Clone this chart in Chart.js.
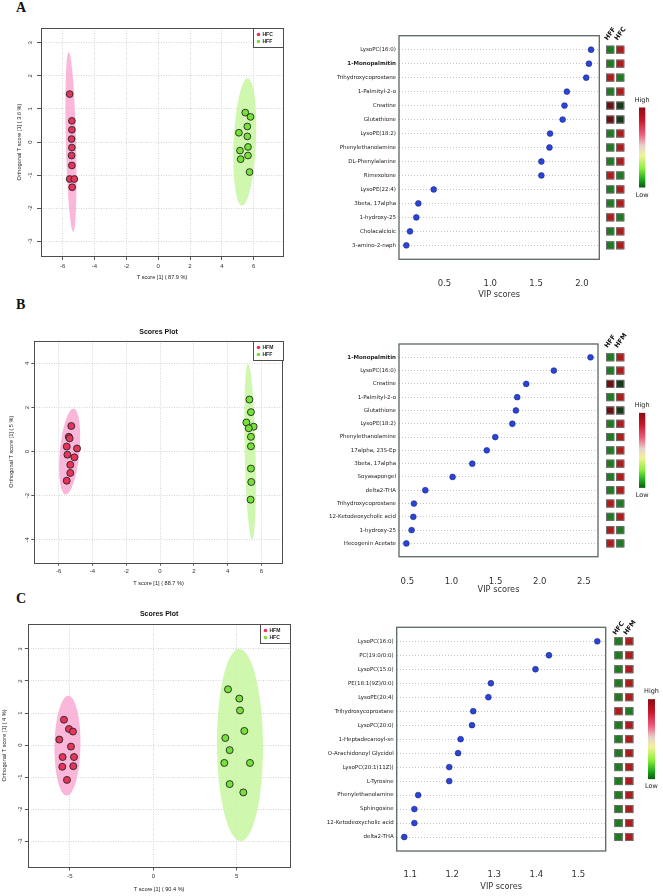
<!DOCTYPE html>
<html>
<head>
<meta charset="utf-8">
<script src="https://cdn.jsdelivr.net/npm/chart.js@4.4.1/dist/chart.umd.min.js"></script>
<style>
body { margin: 0; background: #fff; width: 663px; height: 896px; position: relative; overflow: hidden; }
canvas { position: absolute; }
.letter { position: absolute; font-family: "Liberation Serif", serif; font-weight: bold; font-size: 14px; line-height: 14px; color: #111; }
</style>
</head>
<body>
<div class="letter" style="left:16px;top:1px">A</div>
<div class="letter" style="left:16px;top:298px">B</div>
<div class="letter" style="left:16px;top:592px">C</div>

<canvas id="scoreA" width="320" height="290" style="left:0;top:0"></canvas>
<canvas id="vipA" width="343" height="300" style="left:320px;top:0"></canvas>
<canvas id="scoreB" width="320" height="295" style="left:0;top:295px"></canvas>
<canvas id="vipB" width="343" height="295" style="left:320px;top:300px"></canvas>
<canvas id="scoreC" width="320" height="296" style="left:0;top:600px"></canvas>
<canvas id="vipC" width="343" height="296" style="left:320px;top:600px"></canvas>

<script>
// ---------- panel A ----------
const aGroups = ['HFC', 'HFF'];
const aXTicks = [-6, -4, -2, 0, 2, 4, 6];
const aYTicks = [-3, -2, -1, 0, 1, 2, 3];
const aHFC = [[-5.56, 1.45], [-5.42, 0.64], [-5.42, 0.37], [-5.44, 0.09], [-5.42, -0.17],
  [-5.44, -0.41], [-5.42, -0.71], [-5.56, -1.12], [-5.27, -1.12], [-5.4, -1.37]];
const aHFF = [[5.47, 0.89], [5.8, 0.76], [5.6, 0.47], [5.07, 0.28], [5.6, 0.17],
  [5.64, -0.15], [5.14, -0.26], [5.64, -0.41], [5.18, -0.52], [5.74, -0.91]];
// ellipse: centre x, centre y, top of long axis x, y, half width (x units)
const aEllipses = [[-5.48, 0, -5.62, 2.72, 0.32], [5.44, 0, 5.62, 1.93, 0.7]];

const aVipNames = ['LysoPC(16:0)', '1-Monopalmitin', 'Trihydroxycoprostane', '1-Palmityl-2-o', 'Creatine',
  'Glutathione', 'LysoPE(18:2)', 'Phenylethanolamine', 'DL-Phenylalanine', 'Rimexolone',
  'LysoPE(22:4)', '3beta, 17alpha', '1-hydroxy-25', 'Cholacalcioic', '3-amino-2-naph'];
const aVip = [2.10, 2.077, 2.047, 1.836, 1.81, 1.79, 1.653, 1.646, 1.558, 1.558, 0.383, 0.215, 0.193, 0.124, 0.084];
const aVipTicks = [0.5, 1.0, 1.5, 2.0];
const aHeadGroups = ['HFF', 'HFC'];
const aHeat = [['G', 'R'], ['G', 'R'], ['R', 'G'], ['G', 'R'], ['DR', 'DG'], ['DR', 'DG'], ['G', 'R'], ['G', 'R'],
  ['G', 'R'], ['R', 'G'], ['G', 'R'], ['G', 'R'], ['R', 'G'], ['G', 'R'], ['G', 'R']];

// ---------- panel B ----------
const bGroups = ['HFM', 'HFF'];
const bXTicks = [-6, -4, -2, 0, 2, 4, 6];
const bYTicks = [-4, -2, 0, 2, 4];
const bHFM = [[-5.25, 1.16], [-5.4, 0.67], [-5.35, 0.6], [-5.52, 0.23], [-4.91, 0.14],
  [-5.48, -0.14], [-5.07, -0.26], [-5.31, -0.6], [-5.31, -0.97], [-5.52, -1.32]];
const bHFF = [[5.29, 2.36], [5.38, 1.79], [5.11, 1.32], [5.54, 1.13], [5.25, 1.06],
  [5.38, 0.67], [5.38, 0.24], [5.38, -0.77], [5.4, -1.38], [5.36, -2.18]];
const bEllipses = [[-5.35, 0, -5.11, 1.95, 0.58], [5.33, 0, 5.21, 3.99, 0.32]];

const bVipNames = ['1-Monopalmitin', 'LysoPC(16:0)', 'Creatine', '1-Palmityl-2-o', 'Glutathione',
  'LysoPE(18:2)', 'Phenylethanolamine', '17alpha, 23S-Ep', '3beta, 17alpha', 'Soyasapongel',
  'delta2-THA', 'Trihydroxycoprostane', '12-Ketodeoxycholic acid', '1-hydroxy-25', 'Hecogenin Acetate'];
const bVip = [2.575, 2.16, 1.847, 1.745, 1.73, 1.69, 1.496, 1.40, 1.236, 1.013, 0.704, 0.575, 0.568, 0.549, 0.489];
const bVipTicks = [0.5, 1.0, 1.5, 2.0, 2.5];
const bHeadGroups = ['HFF', 'HFM'];
const bHeat = [['G', 'R'], ['G', 'R'], ['DR', 'DG'], ['G', 'R'], ['DR', 'DG'], ['G', 'R'], ['G', 'R'], ['G', 'R'],
  ['G', 'R'], ['G', 'R'], ['G', 'R'], ['R', 'G'], ['G', 'R'], ['R', 'G'], ['R', 'G']];

// ---------- panel C ----------
const cGroups = ['HFM', 'HFC'];
const cXTicks = [-5, 0, 5];
const cYTicks = [-3, -2, -1, 0, 1, 2, 3];
const cHFM = [[-5.36, 0.79], [-5.06, 0.5], [-4.82, 0.42], [-5.64, 0.17], [-4.94, -0.05],
  [-5.44, -0.375], [-4.76, -0.375], [-5.46, -0.68], [-4.8, -0.66], [-5.18, -1.09]];
const cHFC = [[4.48, 1.74], [5.16, 1.45], [5.2, 1.08], [5.46, 0.44], [4.32, 0.22],
  [4.58, -0.16], [4.26, -0.56], [5.8, -0.56], [4.58, -1.22], [5.4, -1.48]];
const cEllipses = [[-5.15, -0.02, -5.1, 1.54, 0.78], [5.2, 0, 5.16, 3.0, 1.38]];

const cVipNames = ['LysoPC(16:0)', 'PC(19:0/0:0)', 'LysoPC(15:0)', 'PE(18:1(9Z)/0:0)', 'LysoPE(20:4)',
  'Trihydroxycoprostane', 'LysoPC(20:0)', '1-Heptadecanoyl-sn', 'O-Arachidonoyl Glycidol', 'LysoPC(20:1(11Z))',
  'L-Tyrosine', 'Phenylethanolamine', 'Sphingosine', '12-Ketodeoxycholic acid', 'delta2-THA'];
const cVip = [1.545, 1.43, 1.398, 1.292, 1.286, 1.25, 1.247, 1.22, 1.214, 1.193, 1.193, 1.119, 1.11, 1.11, 1.086];
const cVipTicks = [1.1, 1.2, 1.3, 1.4, 1.5];
const cHeadGroups = ['HFC', 'HFM'];
const cHeat = [['G', 'R'], ['G', 'R'], ['G', 'R'], ['G', 'R'], ['G', 'R'], ['R', 'G'], ['G', 'R'], ['G', 'R'],
  ['G', 'R'], ['G', 'R'], ['G', 'R'], ['G', 'R'], ['G', 'R'], ['G', 'R'], ['G', 'R']];

const boldNames = ['1-Monopalmitin'];
const heatColors = {G: '#1f7a22', R: '#b01c1c', DR: '#6b1010', DG: '#193a19'};
const scoreFont = '"Liberation Sans", Arial, sans-serif';
const vipFont = '"DejaVu Sans", Verdana, sans-serif';

function fixedTicks(list) {
  return (s) => { s.ticks = list.map((v) => ({value: v})); };
}

function scoresChart(id, o) {
  const extras = {
    id: 'extras',
    beforeDatasetsDraw(chart) {
      const {ctx, chartArea: ca, scales: {x, y}} = chart;
      ctx.save();
      ctx.beginPath();
      ctx.rect(ca.left, ca.top, ca.width, ca.height);
      ctx.clip();
      o.ellipses.forEach((e, i) => {
        const cx = x.getPixelForValue(e[0]), cy = y.getPixelForValue(e[1]);
        const tx = x.getPixelForValue(e[2]), ty = y.getPixelForValue(e[3]);
        const ry = Math.hypot(tx - cx, ty - cy);
        const rx = Math.abs(x.getPixelForValue(e[0] + e[4]) - cx);
        ctx.beginPath();
        ctx.ellipse(cx, cy, rx, ry, Math.atan2(tx - cx, cy - ty), 0, Math.PI * 2);
        ctx.fillStyle = i === 0 ? 'rgba(249,170,210,0.85)' : 'rgba(200,246,160,0.85)';
        ctx.fill();
      });
      ctx.restore();
    },
    afterDraw(chart) {
      const {ctx, chartArea: ca} = chart;
      ctx.save();
      ctx.strokeStyle = '#4d4d4d';
      ctx.lineWidth = 1;
      ctx.strokeRect(Math.round(ca.left) + 0.5, Math.round(ca.top) + 0.5, Math.round(ca.width), Math.round(ca.height));
      // legend box, top right
      const w = 30, h = 19, x0 = Math.round(ca.right) - w + 0.5, y0 = Math.round(ca.top) + 0.5;
      ctx.fillStyle = '#fff';
      ctx.fillRect(x0, y0, w, h);
      ctx.strokeRect(x0, y0, w, h);
      ctx.font = 'bold 5px ' + scoreFont;
      ctx.textBaseline = 'middle';
      chart.data.datasets.forEach((ds, i) => {
        const yy = y0 + 6 + i * 7;
        ctx.fillStyle = ds.backgroundColor;
        ctx.beginPath();
        ctx.arc(x0 + 5, yy, 1.8, 0, Math.PI * 2);
        ctx.fill();
        ctx.fillStyle = '#222';
        ctx.fillText(ds.label, x0 + 9, yy);
      });
      if (o.title) {
        ctx.font = 'bold 7px ' + scoreFont;
        ctx.textAlign = 'center';
        ctx.fillStyle = '#111';
        ctx.fillText(o.title, (ca.left + ca.right) / 2, ca.top - o.titleGap);
      }
      ctx.restore();
    }
  };

  const axisGrid = {color: '#d4d4d4', tickColor: '#555', tickLength: o.tick, tickBorderDash: [], lineWidth: 1};
  new Chart(document.getElementById(id), {
    type: 'scatter',
    data: {
      datasets: [
        {label: o.groups[0], data: o.red.map((p) => ({x: p[0], y: p[1]})), backgroundColor: '#e8335b',
          borderColor: '#262626', borderWidth: 0.9, pointRadius: o.r},
        {label: o.groups[1], data: o.green.map((p) => ({x: p[0], y: p[1]})), backgroundColor: '#74e23a',
          borderColor: '#262626', borderWidth: 0.9, pointRadius: o.r}
      ]
    },
    options: {
      responsive: false,
      animation: false,
      layout: {padding: o.pad},
      plugins: {legend: {display: false}, tooltip: {enabled: false}},
      scales: {
        x: {
          min: o.xr[0], max: o.xr[1],
          afterBuildTicks: fixedTicks(o.xTicks),
          afterFit: (s) => { s.height = o.xh; },
          grid: axisGrid,
          border: {display: false, dash: [1, 1.5]},
          ticks: {font: {family: scoreFont, size: 6}, color: '#333', padding: o.xPad, autoSkip: false},
          title: {display: true, text: o.xTitle, font: {family: scoreFont, size: 5.6}, color: '#222',
            padding: {top: 0, bottom: o.xTitlePad}}
        },
        y: {
          min: o.yr[0], max: o.yr[1],
          afterBuildTicks: fixedTicks(o.yTicks),
          afterFit: (s) => { s.width = o.yw; },
          grid: axisGrid,
          border: {display: false, dash: [1, 1.5]},
          ticks: {font: {family: scoreFont, size: 6}, color: '#333', padding: o.yPad, minRotation: 90, maxRotation: 90,
            crossAlign: 'center', autoSkip: false},
          title: {display: true, text: o.yTitle, font: {family: scoreFont, size: 5.6}, color: '#222',
            padding: {top: o.yTitlePad, bottom: 0}}
        }
      }
    },
    plugins: [extras]
  });
}

function vipChart(id, o) {
  const heat = {
    id: 'heat',
    afterDraw(chart) {
      const {ctx, chartArea: ca, scales: {y}} = chart;
      ctx.save();
      ctx.strokeStyle = '#5b6666';
      ctx.lineWidth = 1.3;
      ctx.strokeRect(ca.left, ca.top, ca.width, ca.height);
      ctx.lineWidth = 1;
      o.heat.forEach((row, i) => {
        const yy = y.getPixelForValue(i);
        row.forEach((c, j) => {
          const xx = ca.right + o.cellOff + j * o.cellStep;
          ctx.fillStyle = heatColors[c];
          ctx.fillRect(xx, yy - 4, o.cellW, 8);
          ctx.strokeStyle = '#6e6e6e';
          ctx.strokeRect(xx + 0.5, yy - 3.5, o.cellW - 1, 7);
        });
      });
      // group headers, slanted
      ctx.font = 'bold 6.5px ' + vipFont;
      ctx.fillStyle = '#111';
      const firstY = y.getPixelForValue(0) - 4 - o.headGap;
      o.headGroups.forEach((g, j) => {
        ctx.save();
        ctx.translate(ca.right + o.cellOff + j * o.cellStep + 1.5, firstY);
        ctx.rotate(-Math.PI * 0.3);
        ctx.fillText(g, 0, 0);
        ctx.restore();
      });
      // colour key
      const bx = ca.right + o.barOff, bh = o.barH, by = (ca.top + ca.bottom) / 2 - bh / 2;
      const grd = ctx.createLinearGradient(0, by, 0, by + bh);
      grd.addColorStop(0, '#8a0c12');
      grd.addColorStop(0.15, '#c41428');
      grd.addColorStop(0.33, '#ef5a7a');
      grd.addColorStop(0.48, '#e6d2cc');
      grd.addColorStop(0.6, '#f2f29a');
      grd.addColorStop(0.76, '#8cf03a');
      grd.addColorStop(0.9, '#1ea81e');
      grd.addColorStop(1, '#0b5a0b');
      ctx.fillStyle = grd;
      ctx.fillRect(bx, by, o.barW, bh);
      ctx.font = '6.5px ' + vipFont;
      ctx.fillStyle = '#222';
      ctx.textAlign = 'center';
      ctx.textBaseline = 'middle';
      ctx.fillText('High', bx + o.barW / 2, by - 7.5);
      ctx.fillText('Low', bx + o.barW / 2, by + bh + 7.5);
      ctx.restore();
    }
  };

  new Chart(document.getElementById(id), {
    type: 'scatter',
    data: {
      datasets: [{
        label: 'VIP',
        data: o.values.map((v, i) => ({x: v, y: i})),
        backgroundColor: '#2a44d8',
        borderColor: '#1a2780',
        borderWidth: 0.6,
        pointRadius: 2.9
      }]
    },
    options: {
      responsive: false,
      animation: false,
      layout: {padding: o.pad},
      plugins: {legend: {display: false}, tooltip: {enabled: false}},
      scales: {
        x: {
          min: o.xr[0], max: o.xr[1],
          afterBuildTicks: fixedTicks(o.xTicks),
          afterFit: (s) => { s.height = o.xh; },
          grid: {display: false},
          border: {display: false},
          ticks: {font: {family: vipFont, size: 8.5}, color: '#333', padding: o.xPad, autoSkip: false,
            callback: (v) => v.toFixed(1)},
          title: {display: true, text: 'VIP scores', font: {family: vipFont, size: 8.2}, color: '#333',
            padding: {top: 0, bottom: o.xTitlePad}}
        },
        y: {
          min: -1, max: o.names.length, reverse: true,
          afterBuildTicks: fixedTicks(o.names.map((n, i) => i)),
          afterFit: (s) => { s.width = o.yw; },
          grid: {drawTicks: false, color: '#c4c4c4'},
          border: {display: false, dash: [1, 2]},
          ticks: {
            autoSkip: false, padding: 3, color: '#222',
            callback: (v) => o.names[v],
            font: (c) => ({family: vipFont, size: 5.5,
              weight: c.tick && boldNames.includes(o.names[c.tick.value]) ? 'bold' : 'normal'})
          }
        }
      }
    },
    plugins: [heat]
  });
}

scoresChart('scoreA', {
  groups: aGroups, red: aHFC, green: aHFF, ellipses: aEllipses, xTicks: aXTicks, yTicks: aYTicks,
  xr: [-7.36, 7.84], yr: [-3.45, 3.45], r: 3.4, tick: 4,
  pad: {left: 0, top: 28, right: 37, bottom: 0}, yw: 41, xh: 34, xPad: 2.5, yPad: 4,
  xTitle: 'T score [1] ( 87.9 %)', yTitle: 'Orthogonal T score [1] ( 3.6 %)', xTitlePad: 8.7, yTitlePad: 15.7
});
scoresChart('scoreB', {
  groups: bGroups, red: bHFM, green: bHFF, ellipses: bEllipses, xTicks: bXTicks, yTicks: bYTicks,
  xr: [-7.44, 7.26], yr: [-5.04, 5.03], r: 3.5, tick: 3,
  pad: {left: 0, top: 45.7, right: 37.3, bottom: 0}, yw: 34.3, xh: 27.3, xPad: 2.5, yPad: 1,
  title: 'Scores Plot', titleGap: 9,
  xTitle: 'T score [1] ( 88.7 %)', yTitle: 'Orthogonal T score [1] ( 5 %)', xTitlePad: 2.7, yTitlePad: 8.4
});
scoresChart('scoreC', {
  groups: cGroups, red: cHFM, green: cHFC, ellipses: cEllipses, xTicks: cXTicks, yTicks: cYTicks,
  xr: [-7.5, 8.2], yr: [-3.81, 3.78], r: 3.5, tick: 3.5,
  pad: {left: 0, top: 24, right: 30, bottom: 0}, yw: 28.3, xh: 29, xPad: 2.5, yPad: 2,
  title: 'Scores Plot', titleGap: 10,
  xTitle: 'T score [1] ( 90.4 %)', yTitle: 'Orthogonal T score [1] ( 4 %)', xTitlePad: 2.7, yTitlePad: 0.7
});

vipChart('vipA', {
  names: aVipNames, values: aVip, xTicks: aVipTicks, heat: aHeat, headGroups: aHeadGroups,
  xr: [0.004, 2.19], pad: {left: 0, top: 35.7, right: 63.7, bottom: 0}, yw: 79, xh: 40.7,
  xPad: 11.6, xTitlePad: 0.1, cellOff: 6.7, cellStep: 10, cellW: 8.3, headGap: 5,
  barOff: 39.7, barW: 6.3, barH: 80
});
vipChart('vipB', {
  names: bVipNames, values: bVip, xTicks: bVipTicks, heat: bHeat, headGroups: bHeadGroups,
  xr: [0.406, 2.66], pad: {left: 0, top: 44, right: 65, bottom: 0}, yw: 79, xh: 38.3,
  xPad: 12.2, xTitlePad: 0, cellOff: 8, cellStep: 10, cellW: 8.3, headGap: 5,
  barOff: 41, barW: 6.3, barH: 75
});
vipChart('vipC', {
  names: cVipNames, values: cVip, xTicks: cVipTicks, heat: cHeat, headGroups: cHeadGroups,
  xr: [1.068, 1.565], pad: {left: 0, top: 27.3, right: 57.3, bottom: 0}, yw: 76.7, xh: 45,
  xPad: 10.9, xTitlePad: 4.4, cellOff: 8.6, cellStep: 10.7, cellW: 8.4, headGap: 2,
  barOff: 42.3, barW: 7, barH: 80
});
</script>
</body>
</html>
